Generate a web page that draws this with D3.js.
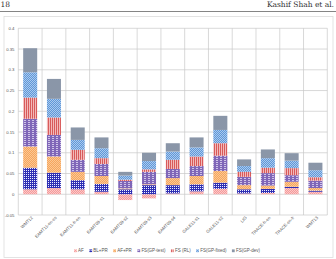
<!DOCTYPE html>
<html>
<head>
<meta charset="utf-8">
<script src="https://cdn.jsdelivr.net/npm/d3@7"></script>
<style>
  html, body { margin: 0; padding: 0; background: #fff; }
  svg { display: block; }
</style>
</head>
<body>
<svg id="chart" width="336" height="259"></svg>
<script>
// categories and stacked series
const categories = ['WMT12', 'EAMT11-en-es', 'EAMT11-fr-en', 'EAMT09-s1', 'EAMT09-s2', 'EAMT09-s3',
    'EAMT09-s4', 'GALE11-s1', 'GALE11-s2', 'LIG', 'TRACE-fr-en', 'TRACE-en-fr', 'WMT13'];
const seriesNames = ['AF', 'BL+PR', 'AF+PR', 'FS(GP-test)', 'FS (RL)', 'FS(GP-fixed)', 'FS(GP-dev)'];

const afValues       = [0.012, 0.015, 0.012, 0.006, -0.014, -0.010, 0.002, 0.007, 0.013, 0.002, 0.003, 0.015, 0.006];
const blPrValues     = [0.052, 0.037, 0.022, 0.019, 0.012, 0.022, 0.020, 0.017, 0.015, 0.010, 0.010, 0.003, 0.003];
const afPrValues     = [0.051, 0.039, 0.020, 0.019, 0.002, 0.002, 0.017, 0.020, 0.028, 0.010, 0.008, 0.012, 0.006];
const gpTestValues   = [0.067, 0.052, 0.029, 0.029, 0.018, 0.030, 0.022, 0.024, 0.037, 0.020, 0.030, 0.016, 0.018];
const rlValues       = [0.051, 0.042, 0.024, 0.014, 0.003, 0.006, 0.022, 0.023, 0.030, 0.012, 0.013, 0.017, 0.008];
const gpFixedValues  = [0.061, 0.045, 0.024, 0.024, 0.010, 0.020, 0.020, 0.022, 0.032, 0.014, 0.023, 0.018, 0.017];
const gpDevValues    = [0.058, 0.048, 0.030, 0.026, 0.009, 0.020, 0.020, 0.024, 0.034, 0.016, 0.021, 0.018, 0.018];

const yTicks = [-0.05, 0, 0.05, 0.1, 0.15, 0.2, 0.25, 0.3, 0.35, 0.4];

const seriesValues = [afValues, blPrValues, afPrValues, gpTestValues, rlValues, gpFixedValues, gpDevValues];

const svg = d3.select('#chart');
const defs = svg.append('defs');

// fill patterns like the Excel pattern fills
function makePattern(id, w, h, bg, cells, fg) {
    const p = defs.append('pattern')
        .attr('id', id)
        .attr('patternUnits', 'userSpaceOnUse')
        .attr('width', w)
        .attr('height', h);
    p.append('rect').attr('width', w).attr('height', h).attr('fill', bg);
    cells.forEach(c => {
        p.append('rect').attr('x', c[0]).attr('y', c[1])
            .attr('width', c[2]).attr('height', c[3]).attr('fill', fg);
    });
}
makePattern('p-af', 2, 2, '#f59a9a', [[0, 0, 1, 1], [1, 1, 1, 1]], '#fbc8c8');
makePattern('p-blpr', 2, 2, '#2f2fb4', [[0, 0, 1, 1]], '#eef0ff');
makePattern('p-afpr', 2, 2, '#f6a55e', [[0, 0, 1, 1], [1, 1, 1, 1]], '#fbc894');
makePattern('p-gptest', 4, 2, '#7f66b8', [[0, 0, 2, 0.8]], '#e4dcf4');
makePattern('p-rl', 2, 2, '#d85a5a', [[1, 0, 0.9, 2]], '#f6c4c4');
makePattern('p-gpfixed', 2, 2, '#6097d8', [[0, 0, 1, 1], [1, 1, 1, 1]], '#aacaee');
makePattern('p-gpdev', 2, 2, '#8a96a8', [], '#8a96a8');
const fills = ['url(#p-af)', 'url(#p-blpr)', 'url(#p-afpr)', 'url(#p-gptest)', 'url(#p-rl)', 'url(#p-gpfixed)', 'url(#p-gpdev)'];

// page header from the paper
svg.append('text')
    .attr('x', 0.5).attr('y', 6.5)
    .attr('font-family', 'DejaVu Serif, serif')
    .attr('font-size', 7.5)
    .attr('fill', '#333')
    .text('18');
svg.append('text')
    .attr('x', 334).attr('y', 6.5)
    .attr('text-anchor', 'end')
    .attr('font-family', 'DejaVu Serif, serif')
    .attr('font-size', 7.5)
    .attr('fill', '#333')
    .text('Kashif Shah et al.');
svg.append('line')
    .attr('x1', 0).attr('x2', 336)
    .attr('y1', 11.5).attr('y2', 11.5)
    .attr('stroke', '#666')
    .attr('stroke-width', 0.8);

// chart frame
svg.append('rect')
    .attr('x', 4).attr('y', 16.5)
    .attr('width', 329).attr('height', 241)
    .attr('fill', 'none')
    .attr('stroke', '#dcdcdc')
    .attr('stroke-width', 0.8);

const plot = { left: 18.3, right: 327.3, top: 28.3, bottom: 215 };

const x = d3.scaleBand()
    .domain(categories)
    .range([plot.left, plot.right])
    .padding(0);

const y = d3.scaleLinear()
    .domain([-0.05, 0.4])
    .range([plot.bottom, plot.top]);

const g = svg.append('g');

// gridlines
g.selectAll('.hgrid')
    .data(yTicks)
    .enter()
    .append('line')
    .attr('class', 'hgrid')
    .attr('x1', plot.left).attr('x2', plot.right)
    .attr('y1', d => y(d)).attr('y2', d => y(d))
    .attr('stroke', '#c9c9c9')
    .attr('stroke-width', 0.7);

const boundaries = categories.map(c => x(c)).concat([plot.right]);
g.selectAll('.vgrid')
    .data(boundaries)
    .enter()
    .append('line')
    .attr('class', 'vgrid')
    .attr('x1', d => d).attr('x2', d => d)
    .attr('y1', plot.top).attr('y2', plot.bottom)
    .attr('stroke', '#c9c9c9')
    .attr('stroke-width', 0.7);

// y tick labels
g.selectAll('.ylab')
    .data(yTicks)
    .enter()
    .append('text')
    .attr('class', 'ylab')
    .attr('x', 14.5)
    .attr('y', d => y(d) + 1.5)
    .attr('text-anchor', 'end')
    .attr('font-family', 'Liberation Sans, Arial, sans-serif')
    .attr('font-size', 4.3)
    .attr('fill', '#555')
    .text(d => d);

// stacked bars
const rows = categories.map((c, i) => {
    const row = { cat: c };
    seriesNames.forEach((s, k) => { row[s] = seriesValues[k][i]; });
    return row;
});

const stack = d3.stack()
    .keys(seriesNames)
    .offset(d3.stackOffsetDiverging);
const stacked = stack(rows);

const barW = x.bandwidth() * 0.59;

stacked.forEach((layer, k) => {
    g.append('g')
        .selectAll('rect')
        .data(layer)
        .enter()
        .append('rect')
        .attr('x', d => x(d.data.cat) + (x.bandwidth() - barW) / 2)
        .attr('y', d => y(Math.max(d[0], d[1])))
        .attr('width', barW)
        .attr('height', d => Math.abs(y(d[0]) - y(d[1])))
        .attr('fill', fills[k]);
});

// rotated category labels
g.selectAll('.xlab')
    .data(categories)
    .enter()
    .append('text')
    .attr('class', 'xlab')
    .attr('text-anchor', 'end')
    .attr('font-family', 'Liberation Sans, Arial, sans-serif')
    .attr('font-size', 4.3)
    .attr('fill', '#555')
    .attr('transform', d => `translate(${x(d) + x.bandwidth() / 2 + 3}, ${plot.bottom + 3}) rotate(-45)`)
    .text(d => d);

// legend at the bottom
const legend = svg.append('g').attr('transform', 'translate(0, 252)');
let cursor = 0;
const items = [];
seriesNames.forEach((name, k) => {
    const item = legend.append('g');
    item.append('rect')
        .attr('x', 0).attr('y', -2.6)
        .attr('width', 2.8).attr('height', 2.8)
        .attr('fill', fills[k]);
    const t = item.append('text')
        .attr('x', 4)
        .attr('y', 0.3)
        .attr('font-family', 'Liberation Sans, Arial, sans-serif')
        .attr('font-size', 4.5)
        .attr('fill', '#555')
        .text(name);
    items.push({ item, w: 4 + t.node().getComputedTextLength() });
});
const gap = 5.5;
const total = d3.sum(items, d => d.w) + gap * (items.length - 1);
cursor = 167 - total / 2;
items.forEach(d => {
    d.item.attr('transform', `translate(${cursor}, 0)`);
    cursor += d.w + gap;
});
</script>
</body>
</html>
